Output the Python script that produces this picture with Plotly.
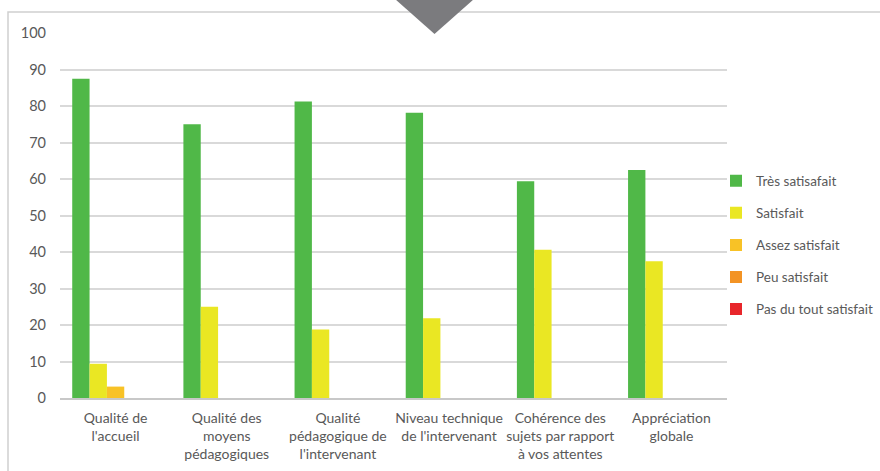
import plotly.graph_objects as go

categories = ["Qualité de<br>l'accueil", "Qualité des<br>moyens<br>pédagogiques",
              "Qualité<br>pédagogique de<br>l'intervenant", "Niveau technique<br>de l'intervenant",
              "Cohérence des<br>sujets par rapport<br>à vos attentes", "Appréciation<br>globale"]
series_names = ["Très satisafait", "Satisfait", "Assez satisfait", "Peu satisfait", "Pas du tout satisfait"]
tres_satisfait = [87.5, 75.0, 81.25, 78.125, 59.375, 62.5]
satisfait = [9.375, 25.0, 18.75, 21.875, 40.625, 37.5]
assez_satisfait = [3.125, 0, 0, 0, 0, 0]
peu_satisfait = [0, 0, 0, 0, 0, 0]
pas_du_tout = [0, 0, 0, 0, 0, 0]
y_ticks = [0, 10, 20, 30, 40, 50, 60, 70, 80, 90, 100]

colors = ["#50B848", "#EAE723", "#F8C226", "#F39324", "#E8262B"]
values = [tres_satisfait, satisfait, assez_satisfait, peu_satisfait, pas_du_tout]

fig = go.Figure()
for i, (name, vals) in enumerate(zip(series_names, values)):
    fig.add_trace(go.Bar(x=categories, y=vals, name=name, marker_color=colors[i],
                         marker_line_width=0, legendgroup=str(i)))

font = "Lato, 'Open Sans', sans-serif"
W, H = 880, 471
# plot area in screenshot pixels: x 60..727, y 33..398
l, r, t, b = 60, 880 - 727, 33, 471 - 398
pw, ph = W - l - r, H - t - b

def px(x):
    return (x - l) / pw

def py(y):
    return (H - b - y) / ph

shapes = [
    dict(type="rect", xref="paper", yref="paper", x0=px(8), x1=px(884), y0=py(480), y1=py(12),
         line=dict(color="#d0d0d0", width=1.5), fillcolor="rgba(0,0,0,0)", layer="below"),
    dict(type="path", xref="paper", yref="paper",
         path=f"M {px(395)} {py(-1)} L {px(474)} {py(-1)} L {px(434.5)} {py(34)} Z",
         fillcolor="#7b7b7e", line=dict(width=0), layer="above"),
]

fig.update_layout(
    width=W, height=H,
    margin=dict(l=l, r=r, t=t, b=b, autoexpand=False),
    paper_bgcolor="white", plot_bgcolor="white",
    barmode="group", bargap=0.22, bargroupgap=0,
    font=dict(family=font, size=13, color="#595959"),
    showlegend=True,
    legend=dict(xref="container", yref="container", x=716 / W, y=1 - 245 / H,
                xanchor="left", yanchor="middle",
                font=dict(size=13.5, color="#595959"), tracegroupgap=11.5,
                traceorder="grouped", itemwidth=30, bgcolor="rgba(0,0,0,0)"),
    xaxis=dict(showgrid=False, showline=True, linecolor="#c8c8c8", linewidth=1.5,
               ticks="", tickfont=dict(size=14, color="#595959"), fixedrange=True,
               automargin=False, ticklabelstandoff=6),
    yaxis=dict(range=[0, 100], tickvals=y_ticks, showgrid=True, gridcolor="#d9d9d9",
               gridwidth=1.5, zeroline=False, showline=False, ticks="", automargin=False,
               tickfont=dict(size=14.5, color="#595959"), ticklabelstandoff=13),
    shapes=shapes,
)

fig.write_html("out.html", config={"displayModeBar": False},
               post_script="document.body.style.margin='0px';")
